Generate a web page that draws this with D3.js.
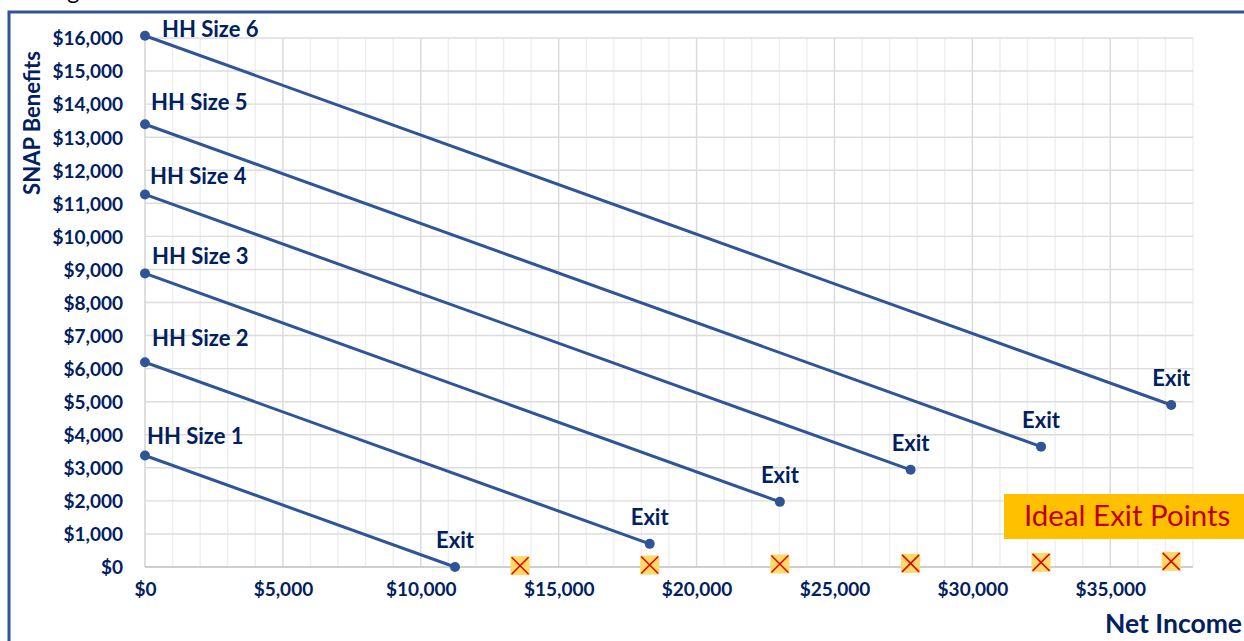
<!DOCTYPE html>
<html>
<head>
<meta charset="utf-8">
<script src="https://cdn.jsdelivr.net/npm/d3@7"></script>
<style>
  html, body { margin: 0; padding: 0; background: #fff; }
  svg { display: block; }
  text { font-family: Lato, "Open Sans", sans-serif; }
</style>
</head>
<body>
<svg id="chart" width="1244" height="641"></svg>
<script>
// ---- Data ----
const householdSizes = ["HH Size 1", "HH Size 2", "HH Size 3", "HH Size 4", "HH Size 5", "HH Size 6"];
const maxBenefits = [3372, 6192, 8880, 11268, 13392, 16068];      // benefit at $0 net income
const exitIncomes = [11240, 18300, 23020, 27760, 32490, 37210];   // net income at exit
const exitBenefits = [0, 700, 1970, 2940, 3640, 4900];            // benefit at exit
const idealExitIncomes = [13600, 18300, 23020, 27760, 32490, 37210];
const idealExitBenefits = [40, 60, 90, 110, 140, 170];
const xTicks = [0, 5000, 10000, 15000, 20000, 25000, 30000, 35000];
const yTicks = [0, 1000, 2000, 3000, 4000, 5000, 6000, 7000, 8000, 9000, 10000, 11000, 12000, 13000, 14000, 15000, 16000];
const exitLabel = "Exit";
const legendLabel = "Ideal Exit Points";
const xTitle = "Net Income";
const yTitle = "SNAP Benefits";

// ---- Layout ----
const navy = "#002060", blue = "#2F5597";
const svg = d3.select("#chart");
const x = d3.scaleLinear().domain([0, 38000]).range([145, 1193]);
const y = d3.scaleLinear().domain([0, 16000]).range([567, 38]);
// label offsets (layout only)
const hhLabelDx = [2, 7, 7, 5, 6, 17];
const hhLabelDy = [-12, -16, -9, -10, -14, 1];

// outer border
svg.append("rect").attr("x", 9).attr("y", 12).attr("width", 1300).attr("height", 700)
  .attr("fill", "none").attr("stroke", blue).attr("stroke-width", 3);
// cut-off title descender
svg.append("text").attr("x", 67).attr("y", -1).attr("font-size", 24).attr("fill", "#000").text("g");

// gridlines
const g = svg.append("g");
g.selectAll(".vg").data(d3.range(1000, 38001, 1000)).join("line")
  .attr("x1", d => x(d)).attr("x2", d => x(d)).attr("y1", y(16000)).attr("y2", y(0))
  .attr("stroke", d => d % 5000 === 0 ? "#D9D9D9" : "#EEEEEE").attr("stroke-width", 1.4);
g.selectAll(".hg").data(d3.range(1000, 16001, 1000)).join("line")
  .attr("x1", x(0)).attr("x2", x(38000)).attr("y1", d => y(d)).attr("y2", d => y(d))
  .attr("stroke", "#DCDCDC").attr("stroke-width", 1.4);
// axis lines
g.append("line").attr("x1", x(0)).attr("x2", x(0)).attr("y1", y(16000)).attr("y2", y(0))
  .attr("stroke", "#D0D0D0").attr("stroke-width", 1.4);
g.append("line").attr("x1", x(0)).attr("x2", x(38000)).attr("y1", y(0)).attr("y2", y(0))
  .attr("stroke", "#BFBFBF").attr("stroke-width", 1.6);

// axes (labels only)
const fmt = d => "$" + d3.format(",")(d);
const ya = svg.append("g").attr("transform", `translate(${x(0)},0)`)
  .call(d3.axisLeft(y).tickValues(yTicks).tickFormat(fmt).tickSize(0).tickPadding(22));
ya.select(".domain").remove();
ya.selectAll("text").attr("font-family", "Lato, sans-serif").attr("font-size", 19)
  .attr("font-weight", "bold").attr("fill", navy).attr("dy", "0.36em");
const xa = svg.append("g").attr("transform", `translate(0,${y(0)})`)
  .call(d3.axisBottom(x).tickValues(xTicks).tickFormat(fmt).tickSize(0).tickPadding(23));
xa.select(".domain").remove();
xa.selectAll("text").attr("font-family", "Lato, sans-serif").attr("font-size", 19)
  .attr("font-weight", "bold").attr("fill", navy).attr("dy", "0.3em");

// axis titles
svg.append("text").attr("transform", "translate(40,123) rotate(-90)").attr("text-anchor", "middle")
  .attr("font-size", 22).attr("font-weight", "bold").attr("fill", navy).text(yTitle);
svg.append("text").attr("x", 1242).attr("y", 633).attr("text-anchor", "end")
  .attr("font-size", 26.5).attr("font-weight", "bold").attr("fill", navy).text(xTitle);

// series lines
const series = householdSizes.map((name, i) => ({
  name, i,
  pts: [[0, maxBenefits[i]], [exitIncomes[i], exitBenefits[i]]]
}));
const line = d3.line().x(d => x(d[0])).y(d => y(d[1]));
svg.selectAll(".ser").data(series).join("path")
  .attr("d", d => line(d.pts)).attr("fill", "none").attr("stroke", blue).attr("stroke-width", 3);
svg.selectAll(".dot").data(series.flatMap(s => s.pts)).join("circle")
  .attr("cx", d => x(d[0])).attr("cy", d => y(d[1])).attr("r", 5).attr("fill", blue);

// HH labels
svg.selectAll(".hhl").data(series).join("text")
  .attr("x", d => x(0) + hhLabelDx[d.i]).attr("y", d => y(maxBenefits[d.i]) + hhLabelDy[d.i])
  .attr("font-size", 22).attr("font-weight", "bold").attr("fill", navy).text(d => d.name);
// Exit labels
svg.selectAll(".exl").data(series).join("text")
  .attr("x", d => x(exitIncomes[d.i])).attr("y", d => y(exitBenefits[d.i]) - 19)
  .attr("text-anchor", "middle").attr("font-size", 22).attr("font-weight", "bold").attr("fill", navy)
  .text(exitLabel);

// ideal exit markers
const ideal = idealExitIncomes.map((v, i) => [v, idealExitBenefits[i]]);
const mk = svg.selectAll(".mk").data(ideal).join("g")
  .attr("transform", d => `translate(${x(d[0])},${y(d[1])})`);
const s = 9.5;
mk.append("rect").attr("x", -s).attr("y", -s).attr("width", 2 * s).attr("height", 2 * s).attr("fill", "#FFD966");
mk.append("path").attr("d", `M${-s + 1},${-s + 1}L${s - 1},${s - 1}M${s - 1},${-s + 1}L${-s + 1},${s - 1}`)
  .attr("stroke", "#E00000").attr("stroke-width", 1.5);

// legend box
svg.append("rect").attr("x", 1004).attr("y", 494).attr("width", 245).attr("height", 45).attr("fill", "#FFC000");
svg.append("text").attr("x", 1024).attr("y", 526).attr("font-size", 29.5).attr("fill", "#C00000").text(legendLabel);
</script>
</body>
</html>
